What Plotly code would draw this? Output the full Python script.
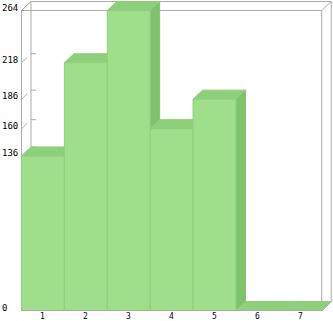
import plotly.graph_objects as go

categories = [1, 2, 3, 4, 5, 6, 7]
values = [136, 218, 264, 160, 186, 0, 0]
y_ticks = [0, 136, 160, 186, 218, 264]
x_labels = ["1", "2", "3", "4", "5", "6", "7"]

FRONT = "rgb(159,222,139)"
TOP = "rgb(141,207,122)"
SIDE = "rgb(127,194,108)"
EDGE = "rgb(143,206,126)"
GRID = "#ababab"
FONT = dict(family="DejaVu Sans Mono", size=9, color="#000000")
XFONT = dict(family="DejaVu Sans Mono", size=8, color="#000000")

W, H = 333, 321
ml, mr, mt, mb = 21, 1, 0, 10
pw, ph = W - ml - mr, H - mt - mb

ymax = max(y_ticks)
n = len(categories)
px_y = 300.0 / ymax          # px per unit
px_x = 300.2 / n             # px per category
dx = 9.5 / px_x              # depth in x units
dy = 9.0 / px_y              # depth in y units

x0f, x1f = categories[0] - 0.5, categories[-1] + 0.5
xr = [x0f - 0.5 / px_x, x0f - 0.5 / px_x + pw / px_x]
yr = [-(ph - 310.5) / px_y, 310.5 / px_y]

fig = go.Figure()

def line(xs, ys, color=GRID):
    fig.add_trace(go.Scatter(x=xs, y=ys, mode="lines",
                             line=dict(color=color, width=1),
                             hoverinfo="skip", showlegend=False))

def poly(xs, ys, fill, edge):
    fig.add_trace(go.Scatter(x=xs + [xs[0]], y=ys + [ys[0]], mode="lines",
                             fill="toself", fillcolor=fill,
                             line=dict(color=edge, width=1),
                             hoverinfo="skip", showlegend=False))

# back box
line([x0f + dx, x0f + dx, x1f + dx, x1f + dx], [dy, ymax + dy, ymax + dy, dy])
line([x0f + dx, x1f + dx], [dy, dy])
# diagonals
line([x0f, x0f + dx], [ymax, ymax + dy])
line([x1f, x1f + dx], [ymax, ymax + dy])
line([x1f, x1f + dx], [0, dy])
# front box
line([x0f, x1f, x1f, x0f, x0f], [0, 0, ymax, ymax, 0])
# y tick marks
for t in y_ticks:
    line([x0f, x0f + dx * 0.6], [t, t + dy * 0.6])
    line([x0f + dx, x0f + dx + 5.0 / px_x], [t + dy, t + dy])

# bars
for c, v in zip(categories, values):
    a, b = c - 0.5, c + 0.5
    poly([b, b + dx, b + dx, b], [0, dy, v + dy, v], SIDE, SIDE)
    poly([a, a + dx, b + dx, b], [v, v + dy, v + dy, v], TOP, TOP)
    if v > 0:
        poly([a, b, b, a], [0, 0, v, v], FRONT, EDGE)

line([x0f, x1f], [0, 0])

annotations = []
for t in y_ticks:
    annotations.append(dict(xref="paper", x=-ml / pw, xanchor="left",
                            yref="y", y=t, yshift=3, yanchor="middle",
                            text=str(t), showarrow=False, font=FONT))
for c, lab in zip(categories, x_labels):
    annotations.append(dict(xref="x", x=c, xanchor="center",
                            yref="paper", y=0, yshift=-5.5, yanchor="middle",
                            text=lab, showarrow=False, font=XFONT))

fig.update_layout(
    width=W, height=H,
    margin=dict(l=ml, r=mr, t=mt, b=mb, pad=0),
    paper_bgcolor="white", plot_bgcolor="white",
    showlegend=False,
    annotations=annotations,
    xaxis=dict(range=xr, showticklabels=False,
               showgrid=False, zeroline=False, showline=False, ticks="",
               automargin=False, fixedrange=True),
    yaxis=dict(range=yr, showticklabels=False, showgrid=False, zeroline=False,
               showline=False, ticks="", automargin=False, fixedrange=True),
)

fig.write_html("out.html")
